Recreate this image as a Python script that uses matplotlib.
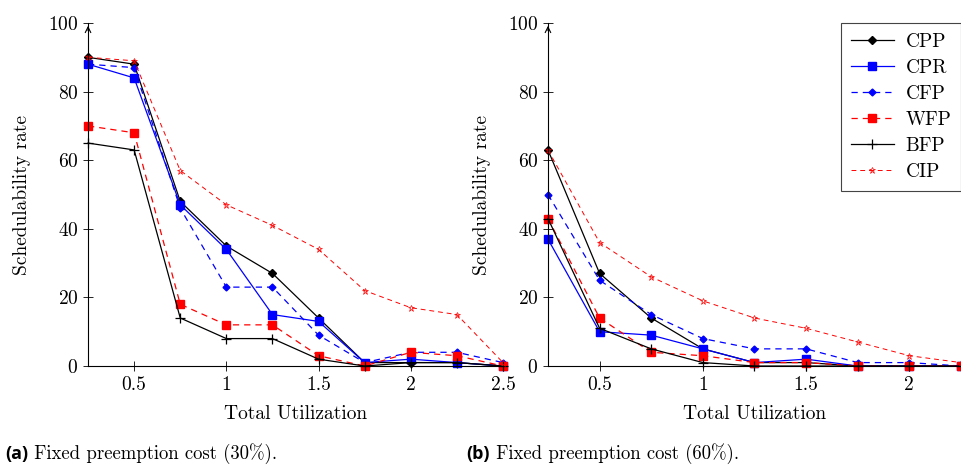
import matplotlib.pyplot as plt

plt.rcParams['font.family'] = ['cmr10', 'DejaVu Serif']
plt.rcParams['axes.formatter.use_mathtext'] = True
plt.rcParams['mathtext.fontset'] = 'cm'

# panel (a): fixed preemption cost 30%
util_a = [0.25, 0.5, 0.75, 1.0, 1.25, 1.5, 1.75, 2.0, 2.25, 2.5]
cpp_a = [90, 88, 48, 35, 27, 14, 1, 1, 1, 0]
cpr_a = [88, 84, 47, 34, 15, 13, 1, 2, 1, 0]
cfp_a = [88, 87, 46, 23, 23, 9, 1, 4, 4, 1]
wfp_a = [70, 68, 18, 12, 12, 3, 0, 4, 3, 0]
bfp_a = [65, 63, 14, 8, 8, 2, 0, 1, 1, 0]
cip_a = [90, 89, 57, 47, 41, 34, 22, 17, 15, 1]

# panel (b): fixed preemption cost 60%
util_b = [0.25, 0.5, 0.75, 1.0, 1.25, 1.5, 1.75, 2.0, 2.25]
cpp_b = [63, 27, 14, 5, 1, 1, 0, 0, 0]
cpr_b = [37, 10, 9, 5, 1, 2, 0, 0, 0]
cfp_b = [50, 25, 15, 8, 5, 5, 1, 1, 0]
wfp_b = [43, 14, 4, 3, 1, 1, 0, 0, 0]
bfp_b = [43, 11, 5, 1, 0, 0, 0, 0, 0]
cip_b = [63, 36, 26, 19, 14, 11, 7, 3, 1]

names = ['CPP', 'CPR', 'CFP', 'WFP', 'BFP', 'CIP']
styles = [
    dict(color='black', ls='-', marker='D', ms=4, lw=0.9),
    dict(color='blue', ls='-', marker='s', ms=6, lw=0.9),
    dict(color='blue', ls=(0, (5, 4)), marker='D', ms=3.5, lw=0.9),
    dict(color='red', ls=(0, (5, 4)), marker='s', ms=6, lw=0.9),
    dict(color='black', ls='-', marker='+', ms=7, lw=0.9, mew=0.9),
    dict(color='red', ls=(0, (5, 4)), marker='*', ms=5, lw=0.7, mfc='none', mew=0.5),
]

fs = 14

fig = plt.figure(figsize=(9.61, 4.71), dpi=100)
ax_a = fig.add_axes([0.0916, 0.2229, 0.4318, 0.7282])
ax_b = fig.add_axes([0.5702, 0.2229, 0.4298, 0.7282])

panels = [
    (ax_a, util_a, [cpp_a, cpr_a, cfp_a, wfp_a, bfp_a, cip_a], 2.5, [0.5, 1, 1.5, 2, 2.5]),
    (ax_b, util_b, [cpp_b, cpr_b, cfp_b, wfp_b, bfp_b, cip_b], 2.25, [0.5, 1, 1.5, 2]),
]

for ax, xs, series, xmax, xt in panels:
    for name, ys, st in zip(names, series, styles):
        ax.plot(xs, ys, label=name, clip_on=False, **st)
    ax.set_xlim(0.25, xmax)
    ax.set_ylim(0, 100)
    ax.set_xticks(xt)
    ax.set_xticklabels([('%g' % t) for t in xt])
    ax.set_yticks([0, 20, 40, 60, 80, 100])
    ax.spines['top'].set_visible(False)
    ax.spines['right'].set_visible(False)
    for s in ('left', 'bottom'):
        ax.spines[s].set_linewidth(0.8)
    ax.tick_params(direction='inout', length=7, width=0.6, labelsize=fs)
    ax.set_xlabel('Total Utilization', fontsize=fs, labelpad=8)
    ax.set_ylabel('Schedulability rate', fontsize=fs, labelpad=12)
    ax.annotate('', xy=(0, 1.0), xytext=(0, 0.97), xycoords='axes fraction',
                arrowprops=dict(arrowstyle='->', lw=0.8, color='black'))

leg = ax_b.legend(loc='upper right', bbox_to_anchor=(1.0, 1.0), borderaxespad=0,
                  fontsize=fs, fancybox=False, edgecolor='#444444', framealpha=1,
                  handlelength=2.2, handletextpad=0.6, borderpad=0.5, labelspacing=0.42)
leg.get_frame().set_linewidth(0.8)

for x0, tag, rest in [(0.005, '(a)', ' Fixed preemption cost (30%).'),
                      (0.485, '(b)', ' Fixed preemption cost (60%).')]:
    t = fig.text(x0, 0.025, tag, fontsize=13, fontweight='bold', family='Open Sans')
    fig.canvas.draw()
    bb = t.get_window_extent()
    fig.text(bb.x1 / fig.bbox.width, 0.025, rest, fontsize=13.5)

fig.savefig('out.png', dpi=100)
